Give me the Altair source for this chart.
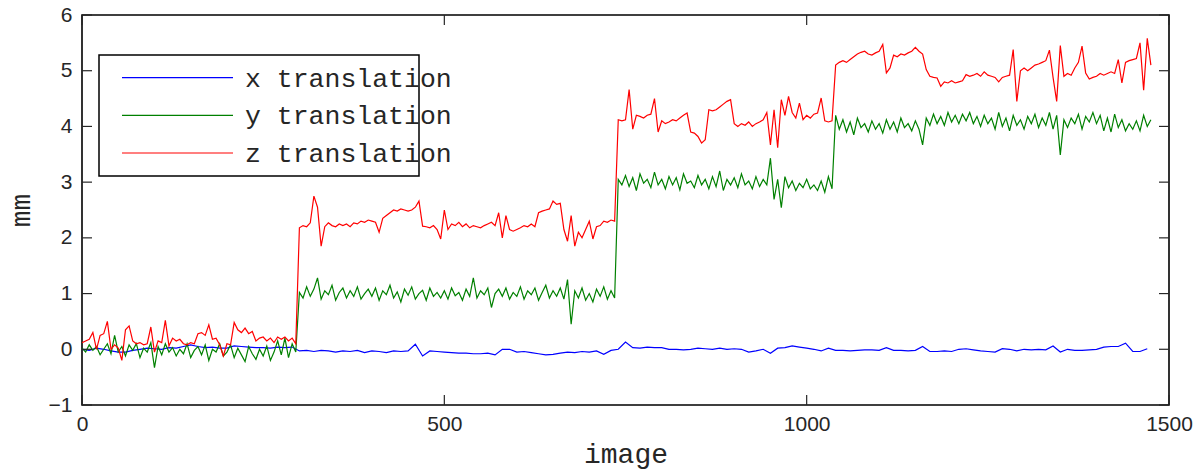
import altair as alt
import pandas as pd

# ---------------- data ----------------
STEP_YZ = 5
STEP_X = 10

x_translation = [
    0.0, -0.02, 0.02, 0.0, -0.03, -0.05, -0.05, -0.02, 0.0, 0.02, 0.01, 0.0, 0.03, 0.02, 0.05, 0.08, 0.05, 0.03, 0.04, 0.02,
    0.02, 0.06, 0.05, 0.04, 0.03, 0.03, 0.02, 0.04, 0.03, 0.04, -0.03, -0.02, -0.04, -0.02, -0.03, -0.05, -0.03, -0.04, -0.02, -0.06,
    -0.03, -0.04, -0.06, -0.03, -0.04, -0.03, 0.09, -0.12, -0.03, -0.04, -0.05, -0.06, -0.07, -0.07, -0.08, -0.08, -0.07, -0.1, 0.0, 0.0,
    -0.05, -0.04, -0.06, -0.08, -0.1, -0.09, -0.07, -0.05, -0.06, -0.04, -0.05, -0.03, -0.09, -0.02, 0.0, 0.13, 0.03, 0.02, 0.04, 0.03,
    0.03, 0.0, 0.0, -0.01, 0.0, 0.02, 0.01, 0.0, 0.02, 0.0, 0.01, 0.0, -0.05, -0.03, 0.0, -0.07, 0.02, 0.03, 0.06, 0.04,
    0.02, 0.0, -0.03, 0.02, -0.02, -0.02, -0.03, -0.02, -0.01, -0.01, -0.02, 0.03, -0.02, -0.02, -0.03, -0.02, 0.05, -0.04, -0.04, -0.03,
    -0.04, 0.0, 0.01, -0.01, -0.03, -0.04, -0.05, 0.01, 0.0, -0.03, 0.0, -0.01, 0.0, -0.01, 0.06, -0.05, 0.0, -0.02, -0.02, -0.01,
    0.0, 0.04, 0.05, 0.05, 0.11, -0.04, -0.04, 0.01,
]

y_translation = [
    0.02, -0.05, 0.08, -0.02, 0.05, -0.1, 0.0, 0.1, -0.08, 0.25, -0.05, 0.05, -0.12, 0.08, -0.02, 0.1, -0.15, 0.02, -0.05, 0.12,
    -0.33, 0.05, -0.1, 0.1, -0.05, 0.03, -0.12, 0.0, -0.08, 0.1, -0.15, -0.02, 0.05, -0.1, 0.08, -0.2, 0.0, -0.05, 0.1, -0.12,
    -0.05, 0.08, -0.15, 0.02, -0.1, -0.22, 0.05, -0.08, -0.18, 0.0, -0.12, 0.06, -0.2, -0.05, 0.15, -0.1, 0.2, -0.15, 0.1, -0.05,
    1.02, 0.92, 1.12, 0.95, 1.08, 1.28, 0.9, 1.05, 0.98, 1.15, 0.88, 1.02, 1.1, 0.92, 1.05, 0.95, 1.12, 0.9, 1.0, 1.08,
    0.95, 1.1, 0.88, 1.05, 0.98, 1.15, 0.92, 1.03, 0.85, 1.08, 0.97, 1.12, 0.9, 1.0, 1.06, 0.88, 1.1, 0.95, 1.02, 0.92,
    1.05, 0.9, 1.1, 0.96, 1.02, 0.88, 1.08, 0.95, 1.28, 0.92, 1.05, 0.98, 1.1, 0.75, 1.0, 1.08, 0.95, 1.1, 0.9, 1.02,
    0.95, 1.12, 0.9, 1.05, 0.98, 1.1, 0.88, 1.02, 1.15, 0.92, 1.05, 0.95, 1.1, 0.9, 1.25, 0.45, 1.05, 0.92, 1.1, 0.88,
    1.0, 0.85, 1.08, 0.95, 1.12, 0.9, 1.05, 0.92, 3.05, 2.95, 3.12, 2.92, 3.08, 2.85, 3.15, 2.98, 3.05, 2.9, 3.18, 2.95,
    3.05, 2.88, 3.1, 2.95, 3.08, 2.86, 3.15, 2.98, 3.02, 2.9, 3.12, 2.95, 3.05, 2.88, 3.1, 2.92, 3.2, 2.85, 3.05, 2.95,
    3.08, 2.9, 3.15, 2.95, 3.02, 2.88, 3.1, 2.92, 3.05, 2.95, 3.43, 2.69, 3.05, 2.54, 3.1, 2.9, 3.02, 2.85, 2.98, 2.9,
    3.05, 2.88, 2.95, 2.85, 3.02, 2.82, 3.1, 2.88, 4.2, 3.95, 4.12, 3.9, 4.08, 3.85, 4.15, 3.98, 4.05, 3.9, 4.1, 3.95,
    4.05, 3.88, 4.12, 3.95, 4.08, 3.9, 4.15, 3.98, 4.05, 3.92, 4.1, 3.95, 3.67, 4.15, 4.02, 4.22, 4.05, 4.18, 4.02, 4.25,
    4.08, 4.2, 4.05, 4.22, 4.1, 4.25, 4.05, 4.18, 4.0, 4.2, 4.05, 4.15, 3.95, 4.25, 4.0, 4.15, 3.92, 4.2, 4.02, 4.12,
    3.95, 4.18, 4.05, 4.22, 3.98, 4.15, 4.02, 4.25, 3.95, 4.2, 3.49, 4.12, 3.98, 4.15, 4.05, 4.22, 3.95, 4.18, 4.08, 4.25,
    4.05, 4.2, 3.92, 4.15, 3.9, 4.22, 3.98, 4.12, 3.92, 4.05, 3.95, 4.1, 3.92, 4.2, 4.0, 4.12,
]

z_translation = [
    0.12, 0.15, 0.18, 0.3, 0.0, 0.25, 0.28, 0.5, 0.0, 0.08, 0.02, -0.2, 0.35, 0.42, 0.15, 0.1, 0.12, 0.08, 0.1, 0.4,
    -0.05, 0.15, 0.12, 0.52, 0.06, 0.2, 0.15, 0.18, 0.1, 0.08, 0.12, 0.1, 0.28, 0.3, 0.25, 0.44, 0.18, 0.2, 0.08, -0.12,
    0.1, 0.08, 0.48, 0.35, 0.3, 0.38, 0.28, 0.32, 0.15, 0.2, 0.22, 0.15, 0.2, 0.12, 0.22, 0.18, 0.22, 0.15, 0.2, 0.1,
    2.18, 2.22, 2.2, 2.27, 2.75, 2.55, 1.85, 2.2, 2.27, 2.22, 2.2, 2.25, 2.22, 2.25, 2.2, 2.27, 2.25, 2.3, 2.28, 2.32,
    2.3, 2.28, 2.1, 2.35, 2.4, 2.45, 2.5, 2.48, 2.52, 2.5, 2.48, 2.5, 2.55, 2.66, 2.21, 2.2, 2.18, 2.22, 2.15, 1.98,
    2.5, 2.15, 2.25, 2.22, 2.28, 2.2, 2.25, 2.18, 2.22, 2.2, 2.18, 2.22, 2.25, 2.28, 2.22, 2.45, 2.0, 2.4, 2.15, 2.12,
    2.15, 2.18, 2.22, 2.2, 2.25, 2.2, 2.45, 2.48, 2.5, 2.52, 2.66, 2.6, 2.62, 2.15, 1.94, 2.4, 1.85, 2.1, 2.0, 2.15,
    2.3, 1.98, 2.2, 2.22, 2.3, 2.28, 2.32, 2.3, 4.12, 4.1, 4.12, 4.66, 3.95, 4.2, 4.18, 4.15, 4.2, 4.22, 4.5, 3.9,
    4.1, 4.05, 4.08, 4.12, 4.1, 4.15, 4.2, 4.24, 3.9, 3.88, 3.82, 3.7, 3.76, 4.3, 4.28, 4.3, 4.35, 4.4, 4.45, 4.48,
    4.05, 4.0, 4.05, 4.02, 4.08, 4.0, 4.05, 4.08, 4.12, 4.25, 3.67, 4.3, 3.62, 4.48, 4.2, 4.54, 4.25, 4.15, 4.42, 4.12,
    4.2, 4.15, 4.22, 4.24, 4.51, 4.1, 4.08, 4.1, 5.1, 5.15, 5.18, 5.15, 5.2, 5.25, 5.3, 5.33, 5.35, 5.3, 5.28, 5.32,
    5.35, 5.47, 4.96, 5.05, 5.28, 5.25, 5.3, 5.28, 5.32, 5.35, 5.42, 5.35, 5.3, 5.02, 4.9, 4.88, 4.87, 4.72, 4.8, 4.78,
    4.82, 4.78, 4.8, 4.82, 4.93, 4.9, 4.92, 4.95, 4.9, 4.98, 4.92, 4.9, 4.88, 4.8, 4.88, 4.9, 4.92, 5.38, 4.45, 5.0,
    5.05, 5.0, 5.05, 5.1, 5.12, 5.15, 5.18, 5.37, 4.88, 4.45, 5.45, 4.9, 4.95, 4.92, 5.05, 5.15, 5.44, 4.96, 4.85, 4.88,
    4.9, 4.95, 4.92, 4.95, 4.98, 4.95, 5.2, 4.78, 5.15, 5.18, 5.2, 5.22, 5.5, 4.65, 5.58, 5.1,
]

series_names = ["x translation", "y translation", "z translation"]
series_colors = ["#0000ff", "#008000", "#ff0000"]
y_ticks = [-1, 0, 1, 2, 3, 4, 5, 6]
x_ticks = [0, 500, 1000, 1500]

rows = []
for i, v in enumerate(x_translation):
    rows.append({"image": i * STEP_X, "mm": v, "series": series_names[0]})
for i, v in enumerate(y_translation):
    rows.append({"image": i * STEP_YZ, "mm": v, "series": series_names[1]})
for i, v in enumerate(z_translation):
    rows.append({"image": i * STEP_YZ, "mm": v, "series": series_names[2]})
df = pd.DataFrame(rows)

W, H = 1087, 390
TICK = 10
LABEL_FONT = "Liberation Sans"
MONO = "Liberation Mono"
TXT = "#262626"

xscale = alt.Scale(domain=[0, 1500], nice=False, zero=False)
yscale = alt.Scale(domain=[-1, 6], nice=False, zero=False)

xaxis = alt.Axis(values=x_ticks, format="d", title="image", ticks=False, domain=False, grid=False,
                 labelFlush=False, labelFont=LABEL_FONT, labelFontSize=21, labelColor=TXT,
                 labelPadding=8, titleFont=MONO, titleFontSize=28,
                 titleFontWeight="normal", titleColor=TXT, titlePadding=6)
yaxis = alt.Axis(values=y_ticks, format="d", title="mm", ticks=False, domain=False, grid=False,
                 labelFlush=False, labelFont=LABEL_FONT, labelFontSize=21, labelColor=TXT,
                 labelPadding=10, titleFont=MONO, titleFontSize=28,
                 titleFontWeight="normal", titleColor=TXT, titlePadding=13)

lines = alt.Chart(df).mark_line(strokeWidth=1.2, clip=True).encode(
    x=alt.X("image:Q", scale=xscale, axis=xaxis, title="image"),
    y=alt.Y("mm:Q", scale=yscale, axis=yaxis, title="mm"),
    color=alt.Color("series:N", scale=alt.Scale(domain=series_names, range=series_colors), legend=None),
    detail="series:N",
)

ytick_df = pd.DataFrame({"v": y_ticks})
xtick_df = pd.DataFrame({"v": x_ticks})
tick_color = "#262626"
left_ticks = alt.Chart(ytick_df).mark_rule(color=tick_color, strokeWidth=1.2).encode(
    y=alt.Y("v:Q", scale=yscale, axis=yaxis, title="mm"), x=alt.value(0), x2=alt.value(TICK))
right_ticks = alt.Chart(ytick_df).mark_rule(color=tick_color, strokeWidth=1.2).encode(
    y=alt.Y("v:Q", scale=yscale, axis=yaxis, title="mm"), x=alt.value(W - TICK), x2=alt.value(W))
bottom_ticks = alt.Chart(xtick_df).mark_rule(color=tick_color, strokeWidth=1.2).encode(
    x=alt.X("v:Q", scale=xscale, axis=xaxis, title="image"), y=alt.value(H - TICK), y2=alt.value(H))
top_ticks = alt.Chart(xtick_df).mark_rule(color=tick_color, strokeWidth=1.2).encode(
    x=alt.X("v:Q", scale=xscale, axis=xaxis, title="image"), y=alt.value(0), y2=alt.value(TICK))

# legend (drawn by hand, MATLAB style)
leg_df = pd.DataFrame({"series": series_names, "row": [0, 1, 2]})
box = alt.Chart(pd.DataFrame({"a": [0]})).mark_rect(
    fill="white", stroke="black", strokeWidth=1.5).encode(
    x=alt.value(17), x2=alt.value(337), y=alt.value(40), y2=alt.value(161))
legend_layers = [box]
row_y = [62.7, 100.3, 138]
for i, name in enumerate(series_names):
    sub = leg_df[leg_df["series"] == name]
    legend_layers.append(alt.Chart(sub).mark_rule(color=series_colors[i], strokeWidth=1.2).encode(
        x=alt.value(40), x2=alt.value(151), y=alt.value(row_y[i])))
    legend_layers.append(alt.Chart(sub).mark_text(
        align="left", baseline="middle", font=MONO, fontSize=26.5, color=TXT, dy=1).encode(
        x=alt.value(163), y=alt.value(row_y[i]), text="series:N"))

chart = alt.layer(lines, left_ticks, right_ticks, bottom_ticks, top_ticks, *legend_layers).properties(
    width=W, height=H,
    autosize=alt.AutoSizeParams(type="none"),
    padding={"left": 74, "top": 7, "right": 25, "bottom": 64},
).configure(background="white").configure_view(stroke="black", strokeWidth=1.6)

chart.save("out.html", embed_options={"renderer": "svg", "actions": False})
